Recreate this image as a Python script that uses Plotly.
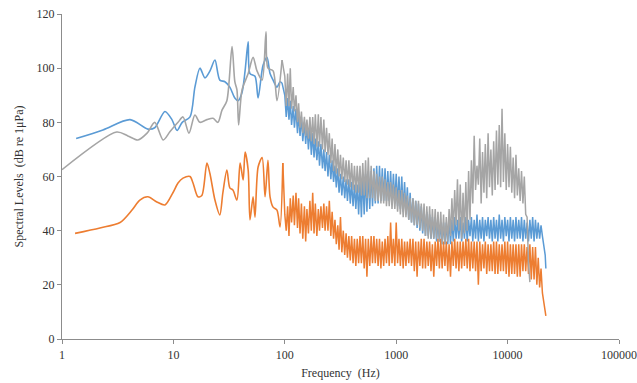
import plotly.graph_objects as go

# ---- tick labels ----
x_tickvals = [1, 10, 100, 1000, 10000, 100000]
x_ticktext = ["1", "10", "100", "1000", "10000", "100000"]
y_tickvals = [0, 20, 40, 60, 80, 100, 120]

# ---- low-frequency (smooth) parts ----
blue_low_f = [1.34, 2.33, 4.08, 5.9, 6.8, 8.4, 9.7, 10.8, 12.0, 14.1, 15.6, 17.3, 19.2, 21.3,
              23.6, 26.1, 29.0, 32.1, 35.6, 38.1, 41.3, 44.0, 46.9, 48.7, 54.0, 57.6, 63.7,
              69.2, 73.7, 78.5, 85.1, 90.6, 94.5]
blue_low_db = [74, 77.2, 81, 77.5, 78, 84, 81, 77, 80, 82, 93, 100, 96.4, 99,
               103, 95.6, 95, 93, 89, 88, 91, 99, 109.7, 98, 97, 89, 101,
               104, 98, 95.6, 93, 95, 94.5]

orange_low_f = [1.31, 2.19, 3.32, 4.25, 5.0, 5.9, 7.1, 8.4, 9.9, 11.0, 12.2, 14.1, 15.0, 16.6,
                18.0, 20.0, 21.3, 23.6, 26.1, 27.8, 30.2, 32.1, 34.2, 37.2, 39.7, 42.3, 44.0,
                46.9, 48.7, 51.9, 54.0, 57.6, 62.6, 66.5, 70.6, 73.7, 78.5, 85.1, 90.6, 96.0]
orange_low_db = [39, 41, 43, 47.6, 51.3, 52.5, 50.6, 49.5, 54, 57.6, 59.4, 60, 57.6, 52.5,
                 53, 65, 61, 51.3, 45.8, 54, 62.4, 55.8, 55, 51.3, 65, 58.7, 69,
                 62.4, 44, 52.5, 45, 63.5, 67, 52.5, 66, 52.5, 48.7, 47.6, 41.4, 65]

gray_low_f = [1.0, 3.1, 3.9, 4.8, 5.8, 6.8, 8.1, 9.3, 11.0, 12.2, 13.8, 15.6, 17.3, 20.0,
              22.7, 25.1, 27.3, 30.2, 33.6, 35.6, 37.2, 38.5, 41.3, 46.9, 51.9, 56.3, 62.6,
              67.8, 70.6, 78.5, 85.1, 94.5]
gray_low_db = [62.5, 76.4, 75, 73.5, 76, 80, 73.5, 76.5, 80, 82, 76, 82.7, 80, 81,
               81.5, 80, 84.5, 88, 108, 95, 92, 79, 92, 98, 104, 99, 95.6,
               113.4, 100, 99, 88, 103]

# ---- high-frequency (dense, noisy) parts on a shared frequency grid (Hz) ----
hi_f = [100, 103, 106, 109, 112, 115, 119, 122, 126, 130, 133, 137, 141, 145, 150, 154, 158,
        163, 168, 173, 178, 183, 188, 194, 200, 205, 211, 218, 224, 230, 237, 244, 251, 259,
        266, 274, 282, 290, 299, 307, 316, 325, 335, 345, 355, 365, 376, 387, 398, 410, 422,
        434, 447, 460, 473, 487, 501, 516, 531, 546, 562, 579, 596, 613, 631, 649, 668, 688,
        708, 729, 750, 772, 794, 818, 841, 866, 891, 917, 944, 972,
        1000, 1029, 1059, 1090, 1122, 1155, 1189, 1223, 1259, 1296, 1334, 1372, 1413, 1454,
        1496, 1540, 1585, 1631, 1679, 1728, 1778, 1830, 1884, 1939, 1995, 2054, 2113, 2175,
        2239, 2304, 2371, 2441, 2512, 2585, 2661, 2738, 2818, 2901, 2985, 3073, 3162, 3255,
        3350, 3447, 3548, 3652, 3758, 3868, 3981, 4097, 4217, 4340, 4467, 4597, 4732, 4870,
        5012, 5158, 5309, 5464, 5623, 5788, 5957, 6131, 6310, 6494, 6683, 6879, 7079, 7286,
        7499, 7718, 7943, 8175, 8414, 8660, 8913, 9173, 9441, 9716,
        10000, 10292, 10593, 10902, 11220, 11548, 11885, 12232, 12589, 12957, 13335, 13725,
        14125, 14538, 14962, 15399, 15849, 16312, 16788, 17278, 17783, 18302, 18836, 19387,
        19953, 20535, 21135, 21752, 22050]

blue_hi_db = [
    90, 82, 89, 81, 88, 79, 86, 78, 85, 76, 84, 75, 82, 73, 80, 72, 79, 70, 78, 68,
    76, 67, 74, 66, 73, 64, 72, 63, 70, 62, 69, 60, 68, 59, 66, 58, 64, 56, 63, 54,
    61, 53, 60, 52, 59, 51, 59, 50, 58, 49, 57, 48, 57, 46, 58, 45, 60, 46, 61, 47,
    62, 48, 62, 49, 63, 50, 64, 50, 64, 51, 63, 51, 63, 51, 62, 51, 62, 50, 61, 50,
    61, 49, 60, 48, 60, 47, 58, 46, 56, 44, 54, 43, 52, 42, 51, 41, 50, 40, 49, 39,
    48, 38, 47, 38, 46, 37, 45, 37, 45, 36, 44, 36, 43, 35, 43, 35, 43, 35, 44, 35,
    44, 36, 45, 37, 44, 37, 45, 36, 43, 37, 45, 36, 44, 38, 45, 36, 44, 37, 46, 36,
    44, 37, 45, 36, 44, 38, 45, 37, 44, 36, 45, 37, 44, 36, 46, 37, 44, 36, 45, 38,
    44, 36, 45, 37, 44, 36, 45, 37, 44, 37, 45, 36, 44, 37, 43, 36, 44, 37, 45, 36,
    44, 37, 43, 37, 42, 38, 35, 31, 26]

orange_hi_db = [
    46, 40, 49, 38, 52, 43, 53, 42, 54, 41, 52, 39, 50, 37, 49, 36, 48, 39, 51, 40,
    54, 39, 50, 38, 48, 40, 49, 41, 50, 40, 49, 40, 51, 38, 47, 37, 44, 35, 42, 33,
    45, 32, 40, 31, 39, 30, 38, 29, 38, 28, 37, 27, 37, 28, 38, 28, 38, 26, 37, 23,
    37, 27, 38, 28, 38, 28, 37, 27, 37, 26, 36, 27, 37, 28, 38, 27, 43, 28, 37, 27,
    43, 28, 37, 27, 37, 26, 36, 27, 36, 28, 37, 27, 37, 25, 36, 23, 36, 27, 37, 26,
    37, 26, 36, 27, 36, 25, 35, 23, 36, 27, 37, 26, 37, 26, 36, 27, 36, 25, 35, 23,
    36, 27, 37, 26, 36, 25, 36, 26, 36, 27, 37, 26, 37, 25, 36, 26, 36, 25, 36, 20,
    36, 25, 35, 26, 36, 24, 35, 25, 35, 25, 36, 24, 36, 24, 35, 25, 35, 25, 36, 24,
    36, 23, 35, 24, 35, 24, 35, 23, 35, 23, 35, 25, 35, 25, 34, 24, 35, 22, 34, 22,
    34, 20, 30, 19, 26, 17, 14, 11, 8.5]

gray_hi_db = [
    97, 86, 98, 86, 100, 85, 93, 84, 90, 80, 87, 78, 84, 76, 82, 75, 81, 74, 82, 73,
    82, 72, 83, 71, 83, 71, 82, 70, 81, 69, 78, 68, 76, 65, 74, 62, 72, 61, 70, 60,
    68, 59, 67, 58, 66, 57, 66, 56, 65, 55, 64, 54, 64, 54, 64, 53, 65, 53, 66, 52,
    67, 52, 64, 52, 62, 51, 61, 51, 60, 50, 60, 50, 59, 49, 58, 49, 58, 48, 57, 48,
    56, 47, 55, 46, 55, 45, 54, 45, 53, 44, 52, 43, 52, 42, 51, 42, 51, 41, 50, 40,
    50, 38, 49, 37, 49, 37, 48, 37, 48, 37, 47, 36, 47, 35, 46, 35, 45, 36, 48, 38,
    52, 40, 55, 42, 59, 40, 57, 37, 54, 39, 58, 40, 62, 44, 66, 50, 75, 55, 64, 57,
    74, 50, 69, 54, 72, 52, 76, 56, 70, 53, 73, 55, 77, 57, 79, 56, 85, 58, 76, 55,
    72, 56, 71, 54, 67, 52, 68, 53, 63, 51, 62, 50, 60, 46, 45, 28, 21, None, None, None,
    None, None, None, None, None, None, None, None, None]

BLUE = "#5B9BD5"
ORANGE = "#ED7D31"
GRAY = "#A5A5A5"

fig = go.Figure()

series = [
    (blue_low_f, blue_low_db, blue_hi_db, BLUE),
    (orange_low_f, orange_low_db, orange_hi_db, ORANGE),
    (gray_low_f, gray_low_db, gray_hi_db, GRAY),
]
for lf, ldb, hdb, col in series:
    fig.add_trace(go.Scatter(x=lf, y=ldb, mode="lines",
                             line=dict(color=col, width=1.6, shape="spline", smoothing=0.8),
                             showlegend=False, hoverinfo="skip"))
    fig.add_trace(go.Scatter(x=[lf[-1]] + hi_f, y=[ldb[-1]] + hdb, mode="lines",
                             line=dict(color=col, width=1.5),
                             showlegend=False, hoverinfo="skip"))

SERIF = "Times New Roman, Liberation Serif, serif"
axis_font = dict(family=SERIF, size=12, color="#333333")

fig.update_layout(
    width=637, height=383,
    margin=dict(l=62, r=18, t=14, b=44, autoexpand=False),
    paper_bgcolor="white", plot_bgcolor="white",
    font=axis_font,
    xaxis=dict(
        type="log", range=[0, 5], automargin=False,
        tickmode="array", tickvals=x_tickvals, ticktext=x_ticktext,
        showgrid=False, zeroline=False,
        showline=True, linecolor="#8C8C8C", linewidth=1.3,
        ticks="outside", ticklen=4, tickcolor="#8C8C8C",
        tickfont=axis_font,
        title=dict(text="Frequency  (Hz)", font=dict(family=SERIF, size=12, color="#333333"),
                   standoff=8),
    ),
    yaxis=dict(
        range=[0, 120], automargin=False,
        tickmode="array", tickvals=y_tickvals,
        showgrid=False, zeroline=False,
        showline=True, linecolor="#8C8C8C", linewidth=1.3,
        ticks="outside", ticklen=4, tickcolor="#8C8C8C",
        tickfont=axis_font,
        title=dict(text="Spectral Levels  (dB re 1μPa)", font=dict(family=SERIF, size=12, color="#333333"),
                   standoff=10),
    ),
)

fig.write_html("out.html", config={"displayModeBar": False},
               post_script="document.body.style.margin='0';")
